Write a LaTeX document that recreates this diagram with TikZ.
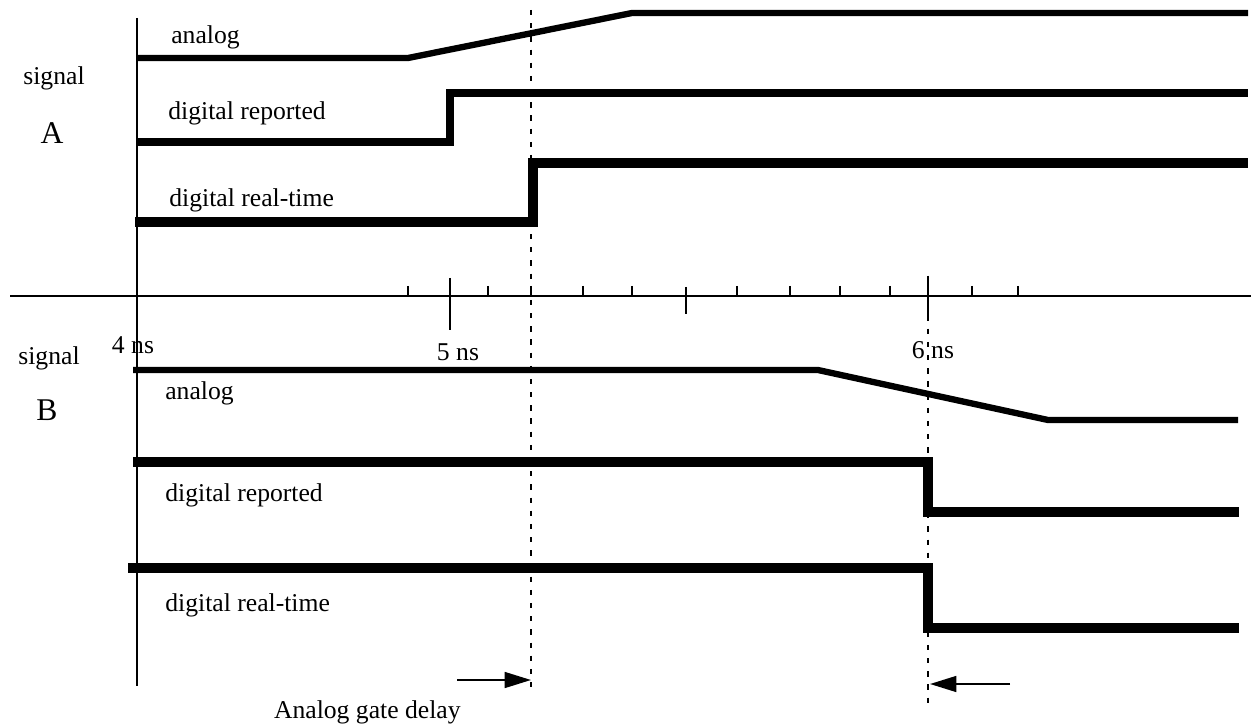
\documentclass[tikz,border=0pt]{standalone}
\usepackage{fontspec}
\setmainfont{Liberation Serif}
\usetikzlibrary{arrows.meta}
\begin{document}
\begin{tikzpicture}[x=0.02cm, y=-0.02cm,
    lbl/.style={font=\fontsize{14.6}{17}\selectfont, inner sep=0pt},
    axis/.style={line width=1.1pt},
    wave/.style={line width=3.6pt, line join=miter},
    fatwave/.style={line width=5.8pt, line join=miter},
    guide/.style={line width=1pt, dash pattern=on 3pt off 4.5pt},
    gate/.style={line width=1.2pt, -{Triangle[length=15pt, width=9pt]}}]
    \useasboundingbox (0,0) rectangle (1251,726);

    % axes
    \draw[axis] (137,18) -- (137,686);
    \draw[axis] (10,296) -- (1251,296);
    \foreach \x in {408,488,531,583,632,737,790,840,890,972,1018}
        \draw[axis] (\x,286) -- (\x,296);
    \draw[axis] (450,278) -- (450,330);
    \draw[axis] (686,287) -- (686,314);
    \draw[axis] (928,276) -- (928,316);

    % delay markers
    \draw[guide] (531,10) -- (531,692);
    \draw[guide] (928,276) -- (928,706);

    % signal A
    \draw[wave] (137,58) -- (408,58) -- (632,13) -- (1248,13);
    \draw[wave, line width=4pt] (137,142) -- (450,142) -- (450,93) -- (1248,93);
    \draw[fatwave] (135,222) -- (533,222) -- (533,163) -- (1248,163);

    % signal B
    \draw[wave] (133,370) -- (818,370) -- (1048,420) -- (1238,420);
    \draw[fatwave] (133,462) -- (928,462) -- (928,512) -- (1239,512);
    \draw[fatwave] (128,568) -- (928,568) -- (928,628) -- (1239,628);

    % labels
    \node[lbl] (sigA) at (54,78) {signal};
    \node[lbl, font=\fontsize{18}{20}\selectfont] (labA) at (52,133) {A};
    \node[lbl, anchor=west] (anaA) at (171,37) {analog};
    \node[lbl, anchor=west] (repA) at (168,113) {digital reported};
    \node[lbl, anchor=west] (rtA) at (169,200) {digital real-time};

    \node[lbl] (t4) at (133,345) {4 ns};
    \node[lbl] (t5) at (458,352) {5 ns};
    \node[lbl] (t6) at (933,350) {6 ns};

    \node[lbl] (sigB) at (49,358) {signal};
    \node[lbl, font=\fontsize{18}{20}\selectfont] (labB) at (47,410) {B};
    \node[lbl, anchor=west] (anaB) at (165,393) {analog};
    \node[lbl, anchor=west] (repB) at (165,495) {digital reported};
    \node[lbl, anchor=west] (rtB) at (165,605) {digital real-time};

    % gate delay arrows
    \coordinate (inL) at (457,680);
    \coordinate (atL) at (531,680);
    \coordinate (inR) at (1010,684);
    \coordinate (atR) at (930,684);
    \draw[gate] (inL) -- (atL);
    \draw[gate] (inR) -- (atR);
    \node[lbl, anchor=east] (delay) at (461,712) {Analog gate delay};
\end{tikzpicture}
\end{document}
